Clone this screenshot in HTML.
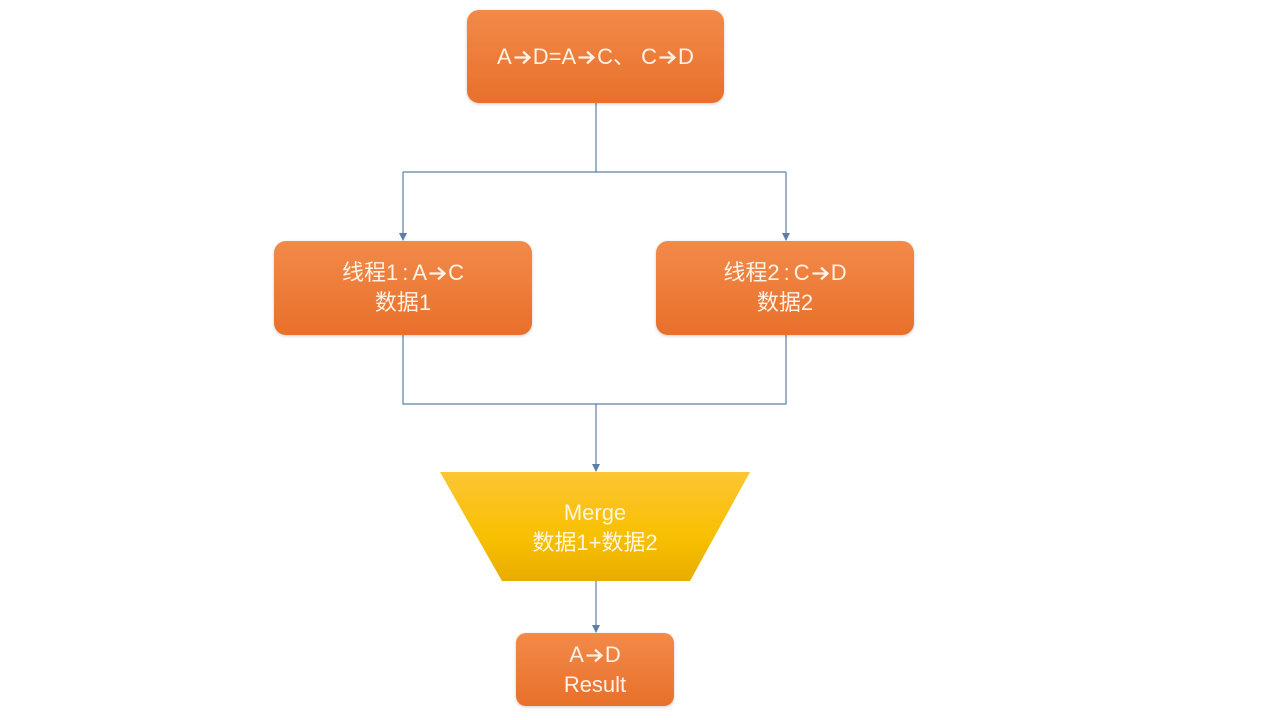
<!DOCTYPE html>
<html><head><meta charset="utf-8"><style>
body{margin:0;width:1280px;height:720px;background:#fff;position:relative;overflow:hidden;font-family:"Liberation Sans","Noto Sans CJK SC",sans-serif}
.b{position:absolute;border-radius:12px;background:linear-gradient(#f28a4a,#e8702a);color:#fdf2e8;display:flex;flex-direction:column;align-items:center;justify-content:center;font-size:22px;line-height:30px;white-space:nowrap;box-shadow:0 1px 3px rgba(0,0,0,.2)}
.t{position:absolute;color:#fff5e0;font-size:22px;line-height:30px;text-align:center;width:310px;left:440px}
.ar{display:inline-block;width:19px;height:15px;vertical-align:-1px;margin:0 1px}
.c{margin:0 4px}
</style></head><body>
<svg width="0" height="0" style="position:absolute"><defs><symbol id="r" viewBox="0 0 17 14"><path d="M1 7H15M9 1.5L15 7L9 12.5" stroke="#fdf2e8" stroke-width="2.2" fill="none"/></symbol></defs></svg>
<svg width="1280" height="720" style="position:absolute;left:0;top:0">
<defs>
<linearGradient id="g" x1="0" y1="0" x2="0" y2="1"><stop offset="0" stop-color="#fcc534"/><stop offset="0.6" stop-color="#f8c000"/><stop offset="1" stop-color="#e8ac00"/></linearGradient>
</defs>
<g stroke="#5b7fa6" stroke-width="1.2" fill="none">
<path d="M596 103V172M403 172H786"/>
<path d="M403 172V240"/><path d="M786 172V240"/>
<path d="M403 335V404H786V335M596 404V471"/>
<path d="M596 581V632"/>
</g>
<g fill="#5b7fa6">
<path d="M399 233L407 233L403 241z"/><path d="M782 233L790 233L786 241z"/>
<path d="M592 464L600 464L596 472z"/><path d="M592 625L600 625L596 633z"/>
</g>
<polygon points="440,472 750,472 690,581 502,581" fill="url(#g)"/>
</svg>
<div class="b" style="left:467px;top:10px;width:257px;height:93px"><div>A<svg class="ar"><use href="#r"/></svg>D=A<svg class="ar"><use href="#r"/></svg>C、 C<svg class="ar"><use href="#r"/></svg>D</div></div>
<div class="b" style="left:274px;top:241px;width:258px;height:94px"><div>线程1<span class="c">:</span>A<svg class="ar"><use href="#r"/></svg>C</div><div>数据1</div></div>
<div class="b" style="left:656px;top:241px;width:258px;height:94px"><div>线程2<span class="c">:</span>C<svg class="ar"><use href="#r"/></svg>D</div><div>数据2</div></div>
<div class="t" style="top:498px">Merge<br>数据1+数据2</div>
<div class="b" style="left:516px;top:633px;width:158px;height:73px;border-radius:10px"><div>A<svg class="ar"><use href="#r"/></svg>D</div><div>Result</div></div>
</body></html>
